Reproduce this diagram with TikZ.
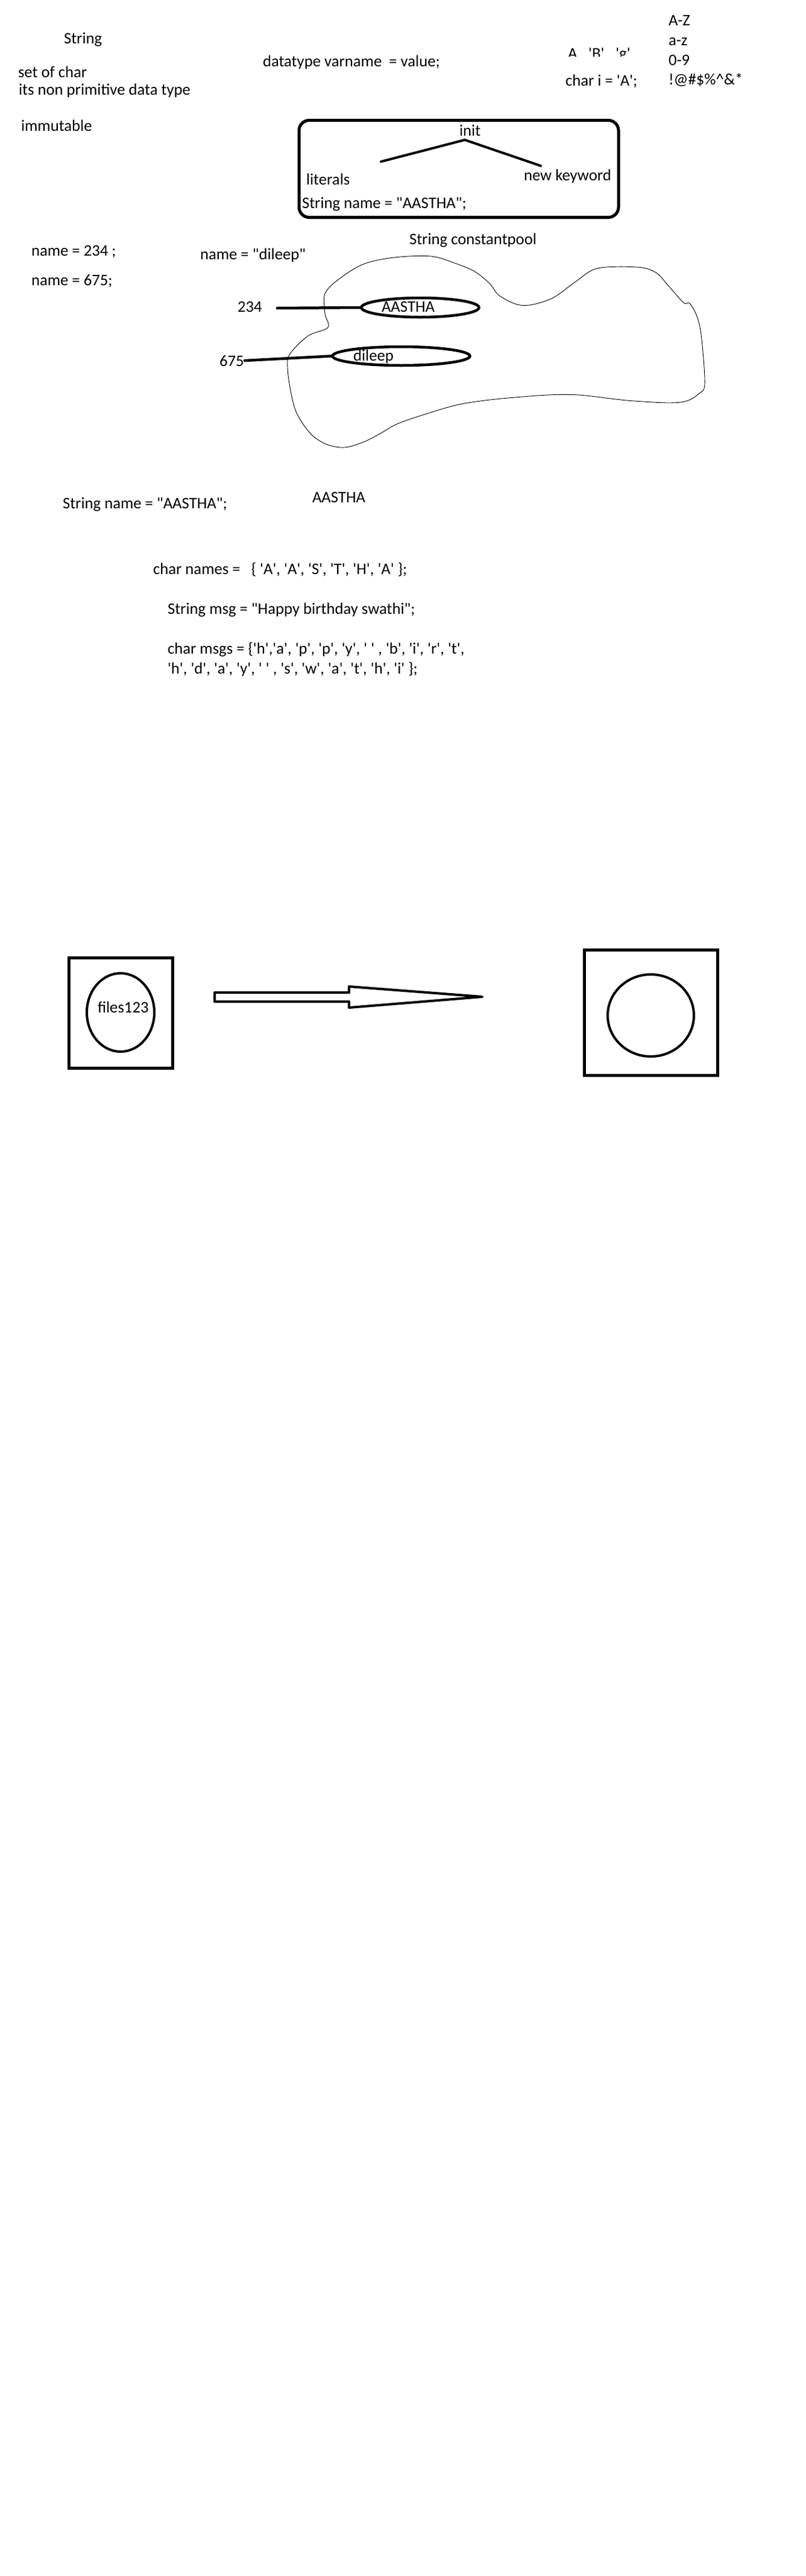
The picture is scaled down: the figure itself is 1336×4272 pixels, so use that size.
\documentclass[tikz,border=0pt]{standalone}
\usepackage{fontspec}
\newfontfamily\paintfont{Carlito}
\usetikzlibrary{shapes.geometric}
\begin{document}
\begin{tikzpicture}[x=1pt,y=-1pt,
  txt/.style={inner sep=0pt, outer sep=0pt, anchor=base west, font=\paintfont\fontsize{26.7}{32}\selectfont},
  oval/.style={ellipse, draw, line width=4.5pt, inner sep=0pt},
  thickbox/.style={draw, line width=5pt, inner sep=0pt},
  thickline/.style={line width=4.5pt},
  poolline/.style={line width=0.9pt}]
\fill[white] (0,0) rectangle (1336,4272);
\useasboundingbox (0,0) rectangle (1336,4272);

% top-left notes
\node[txt] (tString) at (106,72) {String};
\node[txt] (tSet) at (30,128) {set of char};
\node[txt] (tNonPrim) at (31,157) {its non primitive data type};
\node[txt] (tImm) at (35,217) {immutable};
\node[txt] (tDecl) at (436,110) {datatype varname~ = value;};

% clipped character examples
\begin{scope}
  \clip (900,0) rectangle (1100,93.5);
  \node[txt] (tABg) at (942,97) {A , 'B' , 'g'};
\end{scope}
\node[txt] (tChar) at (938,142) {char i = 'A';};
\node[txt] (tAZ) at (1109,42) {A-Z};
\node[txt] (taz) at (1109,75) {a-z};
\node[txt] (t09) at (1109,108) {0-9};
\node[txt] (tSym) at (1109,140) {!@\#\$\%\textasciicircum\&*};

% init box
\node[thickbox, rounded corners=17pt, minimum width=530pt, minimum height=161pt] (initBox) at (761,280) {};
\node[txt] (tInit) at (762,225) {init};
\coordinate (treeL) at (632,268);
\coordinate (treeTop) at (771,232);
\coordinate (treeR) at (897,275);
\draw[line width=4pt, line cap=round, line join=round] (treeL) -- (treeTop) -- (treeR);
\node[txt] (tLit) at (508,306) {literals};
\node[txt] (tNew) at (869,299) {new keyword};
\node[txt] (tStrName) at (501,345) {String name = "AASTHA";};

% string constant pool
\node[txt] (tPool) at (679,405) {String constantpool};
\node[txt] (tN234) at (52,424) {name = 234 ;};
\node[txt] (tN675) at (52,473) {name = 675;};
\node[txt] (tNDil) at (332,430) {name = "dileep"};

\draw[poolline] plot[smooth cycle, tension=0.55] coordinates {
 (539,487) (562,463) (603,438) (654,427) (715,425) (756,437) (787,450) (812,470)
 (828,490) (858,505) (884,505) (919,493) (955,467) (991,445) (1057,443) (1088,452)
 (1108,473) (1134,502) (1144,503) (1157,527) (1164,563) (1169,637) (1159,653)
 (1139,665) (1108,668) (1052,665) (1021,662) (960,655) (909,655) (843,660) (797,665)
 (756,672) (705,687) (659,703) (629,720) (603,733) (572,742) (542,737) (516,720)
 (493,687) (483,653) (477,610) (481,587) (511,557) (544,543) (539,520)};

\node[txt] (t234) at (394,517) {234};
\node[oval, minimum width=195pt, minimum height=32pt] (ellA) at (697,510) {};
\node[txt] (tAASTHA) at (633,517) {AASTHA};
\coordinate (from234) at (460,511);
\draw[thickline, line cap=round] (from234) -- (ellA.west);

\node[txt] (t675) at (364,607) {675};
\node[oval, minimum width=228pt, minimum height=31pt] (ellD) at (665.5,590.5) {};
\node[txt] (tDil) at (586,598) {dileep};
\coordinate (from675) at (406,598);
\draw[thickline, line cap=round] (from675) -- (ellD.west);

% lower notes
\node[txt] (tStrName2) at (104,843) {String name = "AASTHA";};
\node[txt] (tAASTHA2) at (518,833) {AASTHA};
\node[txt] (tCharNames) at (254,952) {char names =~~ \{ 'A', 'A', 'S', 'T', 'H', 'A' \};};
\node[txt] (tMsg) at (278,1018) {String msg = "Happy birthday swathi";};
\node[txt] (tMsgs1) at (278,1084) {char msgs = \{'h','a', 'p', 'p', 'y', ' ' , 'b', 'i', 'r', 't',};
\node[txt] (tMsgs2) at (278,1117) {'h', 'd', 'a', 'y', ' ' , 's', 'w', 'a', 't', 'h', 'i' \};};

% files diagram
\node[thickbox, minimum width=172.5pt, minimum height=183pt] (boxL) at (200.25,1680) {};
\node[ellipse, draw, line width=4pt, inner sep=0pt, minimum width=112pt, minimum height=130pt] (ellF) at (200,1679) {};
\node[txt] (tFiles) at (162,1679) {files123};

\coordinate (arL1) at (356,1646);
\coordinate (arB1) at (579,1646);
\coordinate (arH1) at (579,1636);
\coordinate (arTip) at (800,1653);
\coordinate (arH2) at (579,1671);
\coordinate (arB2) at (579,1661);
\coordinate (arL2) at (356,1661);
\draw[line width=4pt, line join=round] (arL1) -- (arB1) -- (arH1) -- (arTip) -- (arH2) -- (arB2) -- (arL2) -- cycle;

\node[thickbox, minimum width=221pt, minimum height=208pt] (boxR) at (1080,1679.5) {};
\node[ellipse, draw, line width=4pt, inner sep=0pt, minimum width=143pt, minimum height=136pt] (circR) at (1079.5,1684) {};
\end{tikzpicture}
\end{document}
